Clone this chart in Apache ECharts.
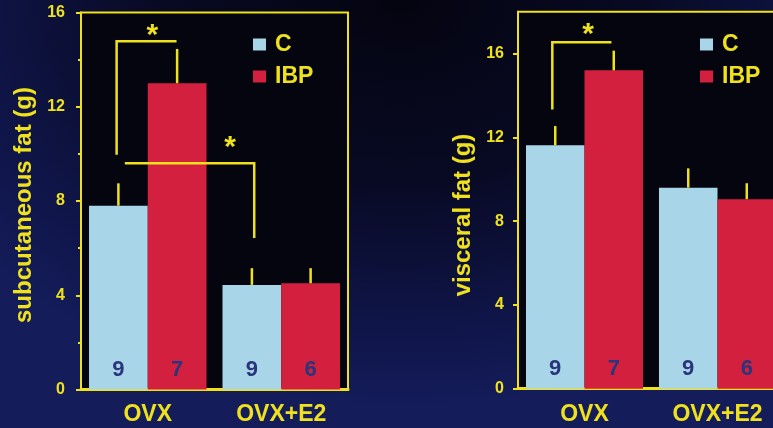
<!DOCTYPE html>
<html>
<head>
<meta charset="utf-8">
<script src="https://cdn.jsdelivr.net/npm/echarts@6/dist/echarts.min.js"></script>
<style>
html,body{margin:0;padding:0;width:773px;height:428px;overflow:hidden;
background:radial-gradient(ellipse 70% 95% at 52% 0%, #040410 0%, #080a24 45%, #0f1548 80%, #141c5a 100%);}
#c{width:773px;height:428px;}
</style>
</head>
<body>
<div id="c"></div>
<script>
// ---- data ----
const categories = ['OVX', 'OVX+E2'];
const groupNames = ['C', 'IBP'];
const subC = [7.8, 4.44];
const subIBP = [13.0, 4.51];
const subCErr = [0.95, 0.71];
const subIBPErr = [1.45, 0.64];
const visC = [11.62, 9.6];
const visIBP = [15.2, 9.05];
const visCErr = [0.92, 0.92];
const visIBPErr = [0.94, 0.76];
const nC = [9, 9];
const nIBP = [7, 6];
const subTicks = [0, 4, 8, 12, 16];
const visTicks = [0, 4, 8, 12, 16];
const subTitle = 'subcutaneous fat (g)';
const visTitle = 'visceral fat (g)';
// significance brackets: points as [category, bar slot, value]
const subBrackets = [
  { points: [[0, -0.53, 9.96], [0, -0.53, 14.78], [0, 0.49, 14.78]], star: [0, 0.08, 15.0] },
  { points: [[0, -0.39, 9.6], [1, -0.46, 9.6], [1, -0.46, 6.43]], star: [1, -0.87, 10.24] }
];
const visBrackets = [
  { points: [[0, -0.55, 13.33], [0, -0.55, 16.54], [0, 0.46, 16.54]], star: [0, 0.06, 16.88] }
];

// ---- style ----
const YEL = '#efe21c';
const BLUE = '#a8d6e8';
const RED = '#d3203e';
const NAVY = '#2a357c';
const FONT = '"Liberation Sans", Arial, sans-serif';
const GAP = 0.12;

const chart = echarts.init(document.getElementById('c'), null, { renderer: 'canvas' });

function errRender(params, api) {
  const cat = api.value(0), v = api.value(1), e = api.value(2), slot = api.value(3);
  const band = api.size([1, 0])[0];
  const bw = band * (1 - GAP) / 2;
  const p1 = api.coord([cat, v]);
  const p2 = api.coord([cat, v + e]);
  const x = p1[0] + slot * bw;
  return { type: 'line', shape: { x1: x, y1: p1[1], x2: x, y2: p2[1] },
           style: { stroke: YEL, lineWidth: 2.5 } };
}
function bracketRender(brackets) {
  return function (params, api) {
    const b = brackets[params.dataIndex];
    const band = api.size([1, 0])[0];
    const bw = band * (1 - GAP) / 2;
    const pts = b.points.map(p => { const c = api.coord([p[0], p[2]]); return [c[0] + p[1] * bw, c[1]]; });
    const s = api.coord([b.star[0], b.star[2]]);
    return { type: 'group', children: [
      { type: 'polyline', shape: { points: pts }, style: { stroke: YEL, lineWidth: 2.5, fill: null } },
      { type: 'text', x: s[0] + b.star[1] * bw, y: s[1],
        style: { text: '*', fill: YEL, font: 'bold 30px ' + FONT, align: 'center', verticalAlign: 'middle' } }
    ] };
  };
}
function errData(vals, errs, slot) {
  return vals.map((v, i) => [i, v, errs[i], slot]);
}
function barSeries(name, data, color, nArr, idx) {
  return {
    type: 'bar', name: name, xAxisIndex: idx, yAxisIndex: idx, data: data,
    barGap: '0%', barCategoryGap: (GAP * 100) + '%',
    itemStyle: { color: color },
    label: { show: true, position: 'insideBottom', distance: 9,
      formatter: p => String(nArr[p.dataIndex]),
      color: NAVY, fontSize: 22, fontWeight: 'bold', fontFamily: FONT },
    z: 2
  };
}
const axisLine = { show: true, lineStyle: { color: YEL, width: 2 } };
function yAxis(gridIndex, max, ticks, margin, extra) {
  return Object.assign({
    type: 'value', gridIndex: gridIndex, min: 0, max: max, interval: 4,
    axisLine: axisLine,
    axisTick: { show: true, length: 5, lineStyle: { color: YEL, width: 2 }, customValues: ticks },
    axisLabel: { color: YEL, fontSize: 16, fontWeight: 'bold', fontFamily: FONT, margin: margin, customValues: ticks },
    splitLine: { show: false }
  }, extra || {});
}
function xAxis(gridIndex) {
  return {
    type: 'category', gridIndex: gridIndex, data: categories,
    axisLine: { show: true, lineStyle: { color: YEL, width: 3 } },
    axisTick: { show: false },
    axisLabel: { color: YEL, fontSize: 23, fontWeight: 'bold', fontFamily: FONT, margin: 14 }
  };
}
function legend(left) {
  return {
    left: left, top: 33, orient: 'vertical', padding: 0, itemWidth: 13, itemHeight: 12, itemGap: 9,
    icon: 'rect', selectedMode: false, data: groupNames,
    textStyle: { color: YEL, fontSize: 23, fontWeight: 'bold', fontFamily: FONT, lineHeight: 22, padding: [0, 0, 0, 4] }
  };
}

const option = {
  backgroundColor: 'transparent',
  animation: false,
  grid: [
    { left: 81, top: 12.5, width: 267, height: 377, show: true, borderColor: YEL, borderWidth: 2, backgroundColor: '#04050e', outerBoundsMode: 'none', containLabel: false },
    { left: 518, top: 11.7, width: 266, height: 377, show: true, borderColor: YEL, borderWidth: 2, backgroundColor: '#04050e', outerBoundsMode: 'none', containLabel: false }
  ],
  xAxis: [xAxis(0), xAxis(1)],
  yAxis: [
    yAxis(0, 16, subTicks, 16, { minorTick: { show: true, splitNumber: 2, length: 3, lineStyle: { color: YEL, width: 2 } } }),
    yAxis(1, 18, visTicks, 14),
    { type: 'value', gridIndex: 1, min: 0, max: 18, interval: 1,
      axisLine: { show: false }, axisLabel: { show: false }, splitLine: { show: false },
      axisTick: { show: true, length: 3, lineStyle: { color: YEL, width: 2 } } }
  ],
  legend: [legend(253), legend(700)],
  graphic: [
    { type: 'text', x: 24, y: 205, rotation: Math.PI / 2,
      style: { text: subTitle, fill: YEL, font: 'bold 24px ' + FONT, align: 'center', verticalAlign: 'middle' } },
    { type: 'text', x: 463, y: 215, rotation: Math.PI / 2,
      style: { text: visTitle, fill: YEL, font: 'bold 24px ' + FONT, align: 'center', verticalAlign: 'middle' } }
  ],
  series: [
    barSeries('C', subC, BLUE, nC, 0),
    barSeries('IBP', subIBP, RED, nIBP, 0),
    barSeries('C', visC, BLUE, nC, 1),
    barSeries('IBP', visIBP, RED, nIBP, 1),
    { type: 'custom', xAxisIndex: 0, yAxisIndex: 0, renderItem: errRender, clip: false, z: 3,
      data: errData(subC, subCErr, -0.5).concat(errData(subIBP, subIBPErr, 0.5)) },
    { type: 'custom', xAxisIndex: 1, yAxisIndex: 1, renderItem: errRender, clip: false, z: 3,
      data: errData(visC, visCErr, -0.5).concat(errData(visIBP, visIBPErr, 0.5)) },
    { type: 'custom', xAxisIndex: 0, yAxisIndex: 0, renderItem: bracketRender(subBrackets), clip: false, z: 3,
      data: subBrackets.map(b => [b.points[0][0], b.points[0][2]]) },
    { type: 'custom', xAxisIndex: 1, yAxisIndex: 1, renderItem: bracketRender(visBrackets), clip: false, z: 3,
      data: visBrackets.map(b => [b.points[0][0], b.points[0][2]]) }
  ]
};
chart.setOption(option);
</script>
</body>
</html>
